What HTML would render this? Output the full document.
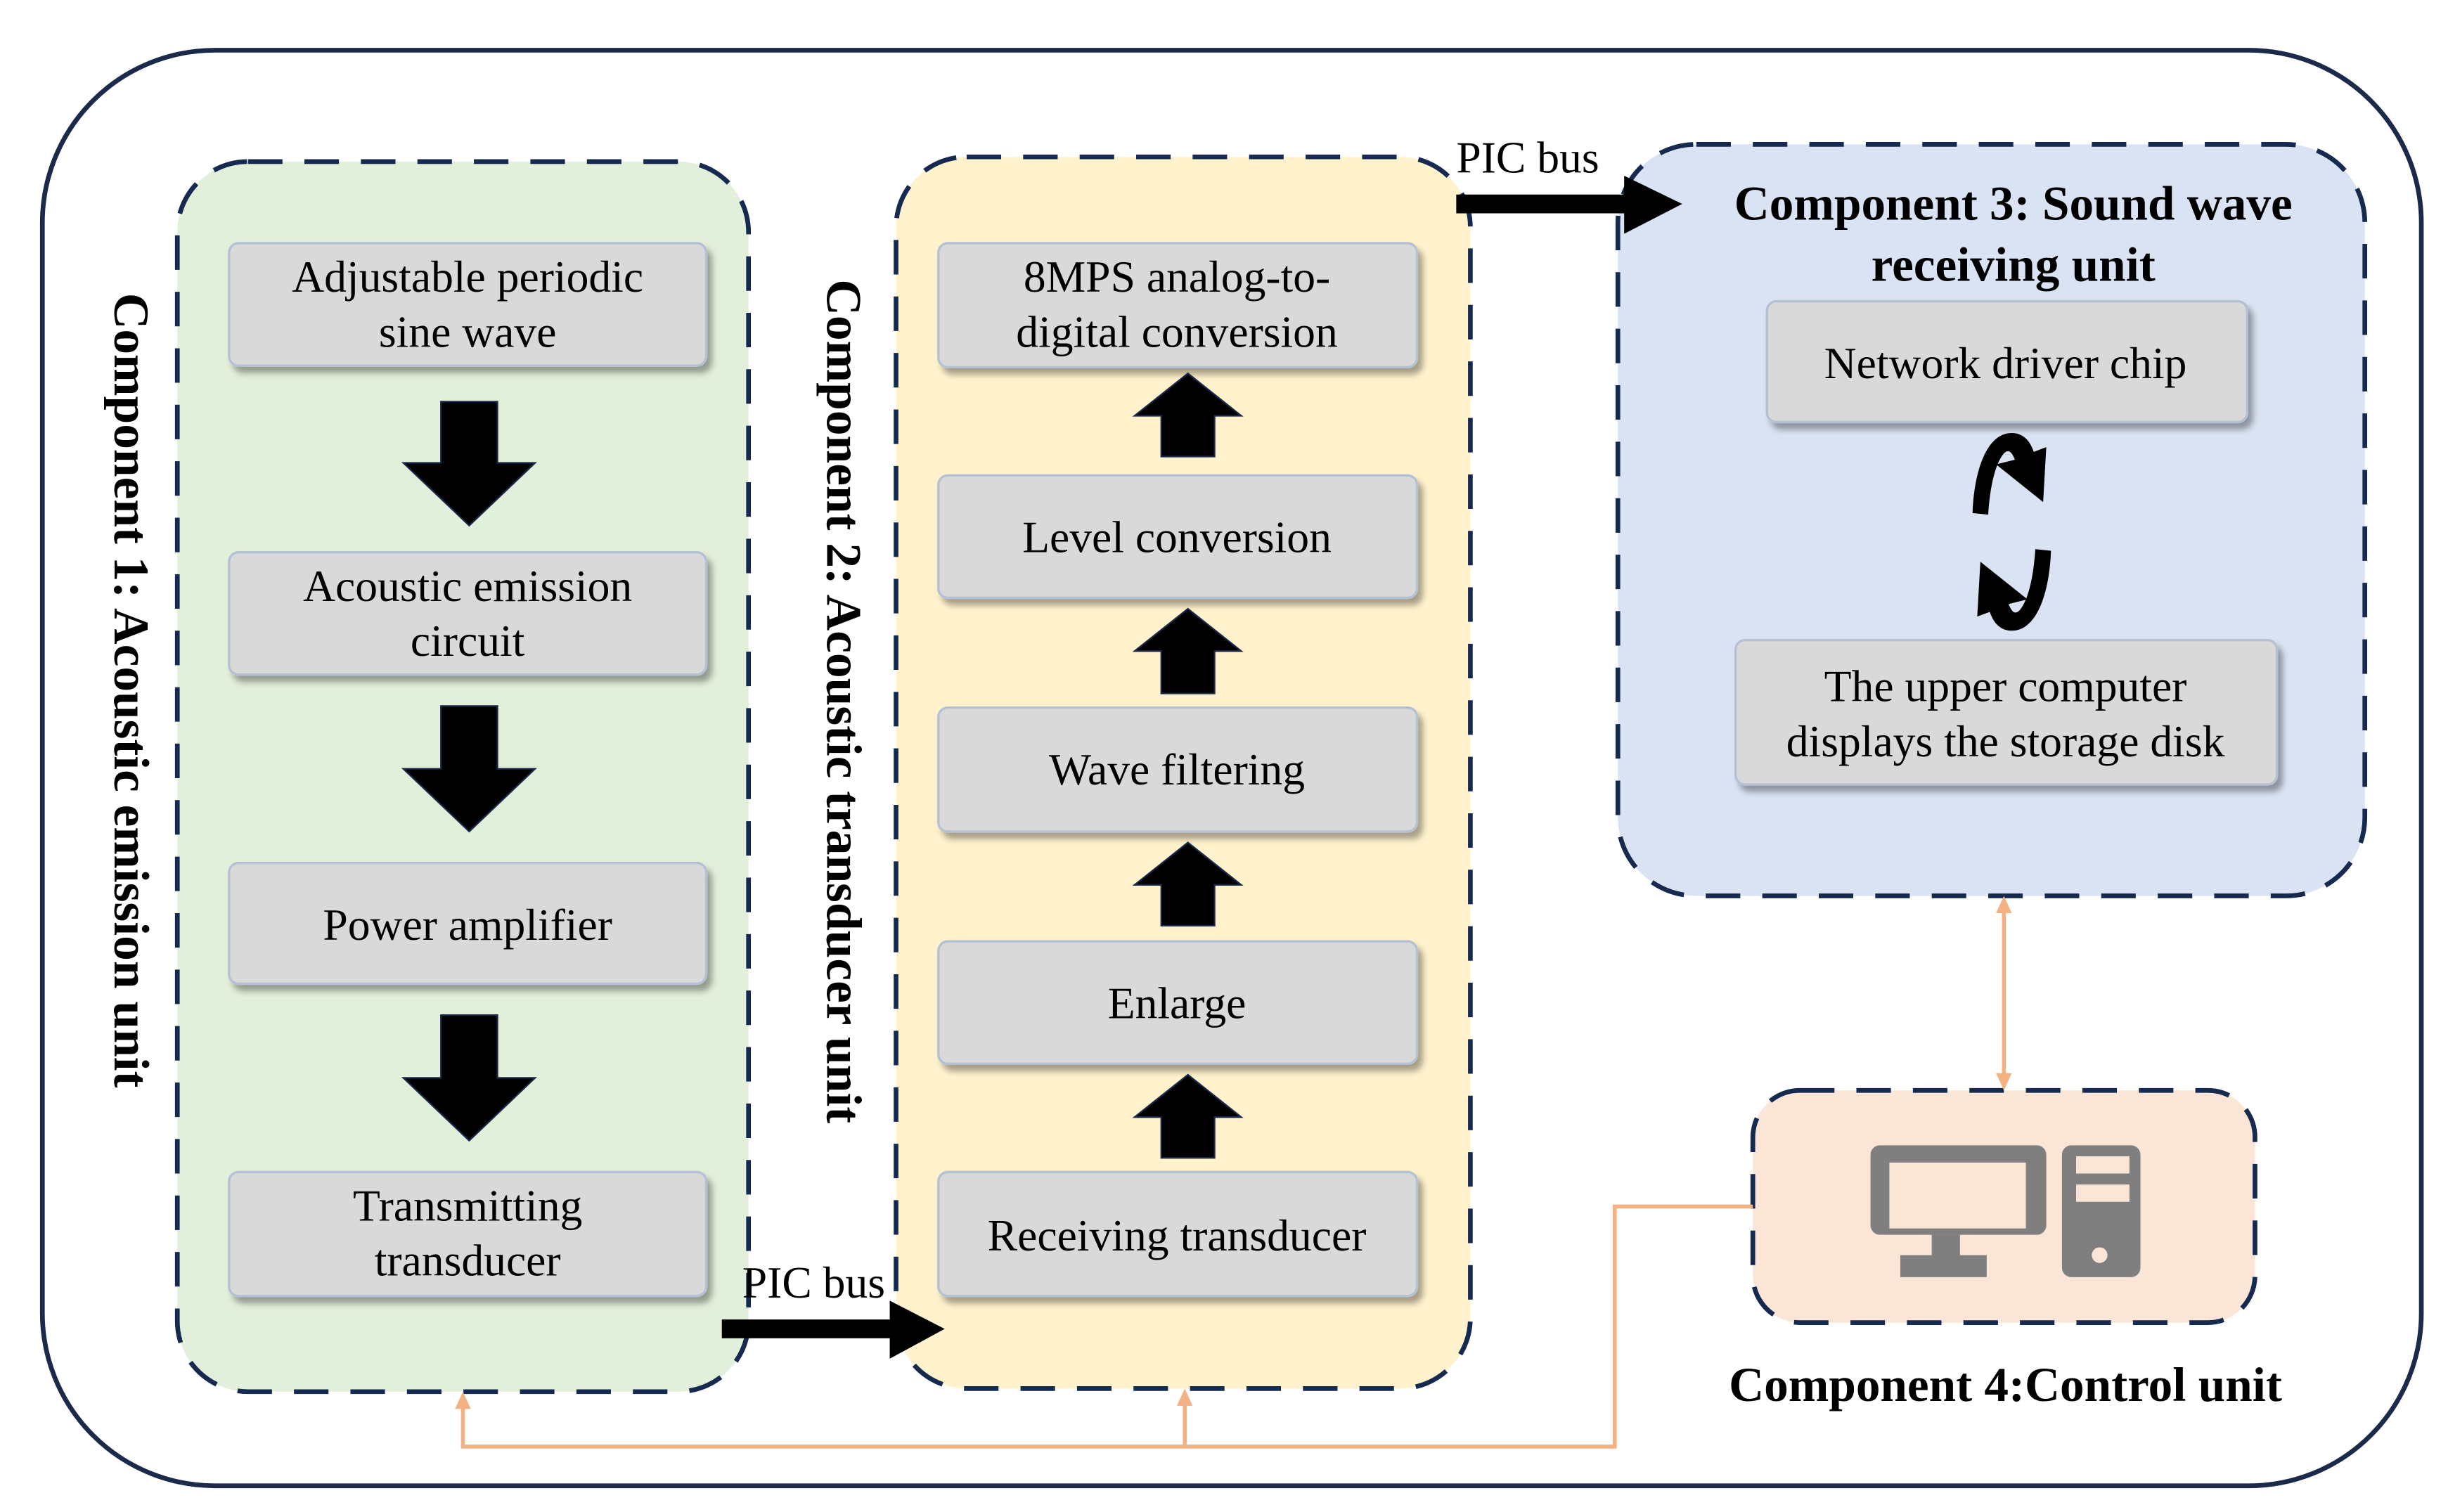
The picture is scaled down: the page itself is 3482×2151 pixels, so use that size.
<!DOCTYPE html>
<html><head><meta charset="utf-8"><style>
html,body{margin:0;padding:0;background:#fff}
svg{display:block}
text{font-family:"Liberation Serif",serif;fill:#000}
</style></head><body>
<svg width="3482" height="2151" viewBox="0 0 1560 963.7" preserveAspectRatio="none" xmlns="http://www.w3.org/2000/svg">
<defs>
<filter id="sh" x="-10%" y="-10%" width="130%" height="140%"><feDropShadow dx="3" dy="4" stdDeviation="2" flood-color="#000" flood-opacity="0.35"/></filter>
</defs>
<rect x="27" y="32" width="1516" height="915" rx="110" fill="#fff" stroke="#1b2a4a" stroke-width="3"/>
<g stroke="#152a4e" stroke-width="3" stroke-dasharray="22,14">
<rect x="113" y="103" width="364" height="784" rx="45" fill="#e2efda"/>
<rect x="571" y="100" width="366" height="785" rx="45" fill="#fff2cc"/>
<rect x="1031" y="92" width="476" height="479" rx="50" fill="#dae3f3"/>
<rect x="1117" y="695" width="320" height="148" rx="30" fill="#fbe5d6"/>
</g>
<g stroke="#f4b183" stroke-width="2.5" fill="none">
<polyline points="1117,769 1029,769 1029,922 295,922 295,893"/>
<line x1="755" y1="922" x2="755" y2="891"/>
<line x1="1277" y1="578" x2="1277" y2="688"/>
</g>
<g fill="#f4b183">
<polygon points="295,887 290,898 300,898"/>
<polygon points="755,885 750,896 760,896"/>
<polygon points="1277,571 1272,582 1282,582"/>
<polygon points="1277,695 1272,684 1282,684"/>
</g>
<g fill="#d9d9d9" stroke="#b4c0d4" stroke-width="1.5" filter="url(#sh)">
<rect x="146" y="155" width="304" height="78" rx="6"/>
<rect x="146" y="352" width="304" height="78" rx="6"/>
<rect x="146" y="550" width="304" height="77" rx="6"/>
<rect x="146" y="747" width="304" height="79" rx="6"/>
<rect x="598" y="155" width="305" height="79" rx="6"/>
<rect x="598" y="303" width="305" height="78" rx="6"/>
<rect x="598" y="451" width="305" height="79" rx="6"/>
<rect x="598" y="600" width="305" height="78" rx="6"/>
<rect x="598" y="747" width="305" height="79" rx="6"/>
<rect x="1126" y="192" width="306" height="77" rx="6"/>
<rect x="1106" y="408" width="345" height="92" rx="6"/>
</g>
<g fill="#000" stroke="#1b2a4a" stroke-width="1">
<polygon points="281,256 317,256 317,295 341,295 299,335 257,295 281,295"/>
<polygon points="281,450 317,450 317,490 341,490 299,530 257,490 281,490"/>
<polygon points="281,647 317,647 317,687 341,687 299,727 257,687 281,687"/>
<polygon points="740,291 774,291 774,265 791,265 757,238 723,265 740,265"/>
<polygon points="740,442 774,442 774,415 791,415 757,388 723,415 740,415"/>
<polygon points="740,590 774,590 774,564 791,564 757,537 723,564 740,564"/>
<polygon points="740,738 774,738 774,712 791,712 757,685 723,712 740,712"/>
</g>
<g fill="#000">
<polygon points="460,841 567,841 567,829 602,847 567,866 567,853 460,853"/>
<polygon points="928,124 1035,124 1035,112 1072,130 1035,149 1035,136 928,136"/>
</g>
<text x="928" y="110" font-size="28.5">PIC bus</text>
<text x="473" y="827" font-size="28.5">PIC bus</text>
<g fill="#000">
<path d="M1257,327 C1258,300 1266,276 1282,276 C1290,276 1294,282 1296,288 L1304,285 L1302,320 L1272,296 L1284,293 C1282,288 1280,286 1277,289 C1271,296 1268,312 1267,328 Z"/>
<path d="M1307,351 C1306,378 1298,402 1282,402 C1274,402 1270,396 1268,390 L1260,393 L1262,358 L1292,382 L1280,385 C1282,390 1284,392 1287,389 C1293,382 1296,366 1297,350 Z"/>
</g>
<g fill="#7f7f7f">
<path fill-rule="evenodd" d="M1198,730 H1298 a6,6 0 0 1 6,6 V781 a6,6 0 0 1 -6,6 H1198 a6,6 0 0 1 -6,-6 V736 a6,6 0 0 1 6,-6 Z M1204,741 V783 H1291 V741 Z"/>
<rect x="1231" y="787" width="18" height="14"/>
<rect x="1211" y="800" width="55" height="14"/>
<path fill-rule="evenodd" d="M1320,730 H1358 a6,6 0 0 1 6,6 V808 a6,6 0 0 1 -6,6 H1320 a6,6 0 0 1 -6,-6 V736 a6,6 0 0 1 6,-6 Z M1323,737 V748 H1357 V737 Z M1323,755 V766 H1357 V755 Z"/>
</g>
<circle cx="1338" cy="800" r="5" fill="#fbe5d6"/>
<g font-size="28.5" text-anchor="middle">
<text x="298" y="186">Adjustable periodic</text>
<text x="298" y="221">sine wave</text>
<text x="298" y="383">Acoustic emission</text>
<text x="298" y="418">circuit</text>
<text x="298" y="599">Power amplifier</text>
<text x="298" y="778">Transmitting</text>
<text x="298" y="813">transducer</text>
<text x="750" y="186">8MPS analog-to-</text>
<text x="750" y="221">digital conversion</text>
<text x="750" y="352">Level conversion</text>
<text x="750" y="500">Wave filtering</text>
<text x="750" y="649">Enlarge</text>
<text x="750" y="797">Receiving transducer</text>
<text x="1278" y="241">Network driver chip</text>
<text x="1278" y="447">The upper computer</text>
<text x="1278" y="482">displays the storage disk</text>
</g>
<g font-size="31" font-weight="bold" text-anchor="middle">
<text x="1283" y="140">Component 3: Sound wave</text>
<text x="1283" y="179">receiving unit</text>
<text x="1278" y="893">Component 4:Control unit</text>
<text font-size="32" transform="translate(73,440) rotate(90)">Component 1: Acoustic emission unit</text>
<text font-size="32" transform="translate(527,447) rotate(90)">Component 2: Acoustic transducer unit</text>
</g>
</svg>
</body></html>
